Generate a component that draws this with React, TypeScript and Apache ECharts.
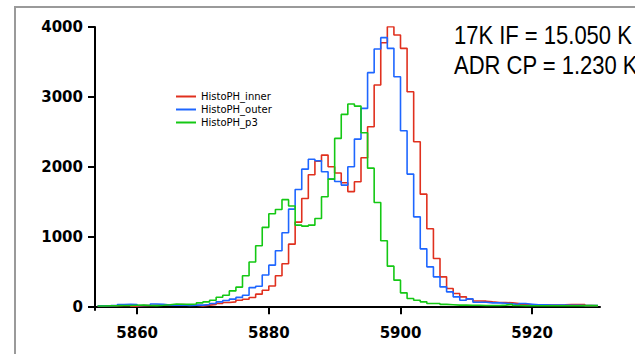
import React, { useEffect, useRef } from "react";
import * as echarts from "echarts";

// bin starts 5854 .. 5929, bin width 1
const binStart = 5854;
const inner = [
  18, 20, 22, 25, 25, 14, 22, 25, 28, 30, 30, 35, 38, 30, 28,
  19, 29, 38, 52, 67, 76, 100, 114, 138, 186, 243, 302, 450, 620, 900,
  1215, 1552, 1890, 2085, 2171, 2005, 1915, 1776, 1650, 1790, 2133, 2576, 3171, 3776, 4005,
  3886, 3695, 3076, 2362, 1614, 1119, 695, 433, 267, 195, 148, 115, 88, 86, 76,
  67, 67, 62, 52, 40, 35, 33, 33, 30, 30, 33, 38, 38, 38, 22, 20,
];
const outer = [
  20, 22, 25, 38, 40, 38, 25, 28, 45, 40, 30, 28, 32, 25, 30,
  29, 38, 52, 76, 95, 115, 140, 170, 280, 300, 460, 600, 805, 1062, 1400,
  1681, 1971, 2112, 2090, 1933, 1829, 1795, 1743, 2005, 2400, 2838, 3348, 3686, 3848, 3695,
  3290, 2519, 1900, 1290, 833, 576, 433, 290, 219, 148, 100, 119, 71, 71, 62,
  62, 57, 48, 38, 52, 43, 33, 33, 30, 30, 30, 28, 28, 25, 25, 25,
];
const p3 = [
  18, 20, 22, 25, 25, 28, 30, 25, 22, 28, 35, 45, 42, 40, 45,
  62, 76, 100, 143, 170, 233, 286, 448, 645, 878, 1140, 1335, 1395, 1535, 1445,
  1171, 1157, 1171, 1267, 1576, 1829, 2410, 2752, 2900, 2871, 2490, 1985, 1495, 948, 586,
  386, 205, 124, 100, 76, 52, 52, 40, 35, 30, 30, 28, 28, 25, 25,
  25, 30, 40, 25, 20, 20, 20, 20, 20, 20, 20, 20, 20, 22, 22, 22,
];
const seriesNames = ["HistoPH_inner", "HistoPH_outer", "HistoPH_p3"];
const seriesColors = ["#e0301e", "#1e66ff", "#14c814"];
const xTicks = [5860, 5880, 5900, 5920];
const yTicks = [0, 1000, 2000, 3000, 4000];
const annotations = ["17K IF = 15.050 K", "ADR CP = 1.230 K"];

function toSteps(vals: number[]) {
  const pts = vals.map((v, i) => [binStart + i, v]);
  pts.push([binStart + vals.length, vals[vals.length - 1]]);
  return pts;
}

export default function App() {
  const ref = useRef<HTMLDivElement>(null);
  useEffect(() => {
    if (!ref.current) return;
    const chart = echarts.init(ref.current, undefined, { renderer: "svg" });
    const allVals = [inner, outer, p3];
    chart.setOption({
      animation: false,
      backgroundColor: "#ffffff",
      grid: { left: 95, right: 35, top: 27, bottom: 44 },
      legend: {
        orient: "vertical",
        left: 176,
        top: 90,
        itemWidth: 20,
        itemHeight: 2,
        itemGap: 0,
        icon: "rect",
        textStyle: {
          fontFamily: "DejaVu Sans",
          fontSize: 10,
          color: "#000",
          lineHeight: 13,
          padding: [0, 0, 0, 0],
        },
        padding: 0,
        data: seriesNames,
      },
      xAxis: {
        type: "value",
        min: 5853.6,
        max: 5930.3,
        splitLine: { show: false },
        axisLine: { show: true, lineStyle: { color: "#000", width: 2 } },
        axisTick: { show: true, length: 7, lineStyle: { color: "#000", width: 2 }, customValues: xTicks },
        axisLabel: {
          customValues: xTicks,
          formatter: (v: number) => String(v),
          margin: 15,
          color: "#000",
          fontFamily: "DejaVu Sans",
          fontWeight: "bold",
          fontSize: 15,
        },
      },
      yAxis: {
        type: "value",
        min: -40,
        max: 4000,
        splitLine: { show: false },
        axisLine: { show: true, lineStyle: { color: "#000", width: 2 } },
        axisTick: { show: true, length: 7, lineStyle: { color: "#000", width: 2 }, customValues: yTicks },
        axisLabel: {
          customValues: yTicks,
          formatter: (v: number) => String(v),
          margin: 12,
          color: "#000",
          fontFamily: "DejaVu Sans",
          fontWeight: "bold",
          fontSize: 15,
        },
      },
      graphic: [
        {
          type: "rect",
          shape: { x: 15, y: 7, width: 700, height: 400 },
          style: { fill: "none", stroke: "#9a9a9a", lineWidth: 2 },
          silent: true,
          z: -1,
        },
        {
          type: "text",
          x: 454,
          y: 36,
          scaleX: 0.88,
          style: {
            text: annotations[0],
            font: "25px 'Liberation Sans', Arial, sans-serif",
            fill: "#000",
            verticalAlign: "middle",
          },
        },
        {
          type: "text",
          x: 454,
          y: 66,
          scaleX: 0.88,
          style: {
            text: annotations[1],
            font: "25px 'Liberation Sans', Arial, sans-serif",
            fill: "#000",
            verticalAlign: "middle",
          },
        },
      ],
      series: seriesNames.map((name, i) => ({
        name,
        type: "line",
        step: "end",
        showSymbol: false,
        symbol: "none",
        color: seriesColors[i],
        lineStyle: { color: seriesColors[i], width: 1.6 },
        data: toSteps(allVals[i]),
      })),
    });
    return () => chart.dispose();
  }, []);
  return (
    <div
      ref={ref}
      style={{ position: "fixed", left: 0, top: 0, width: 635, height: 354 }}
    />
  );
}
